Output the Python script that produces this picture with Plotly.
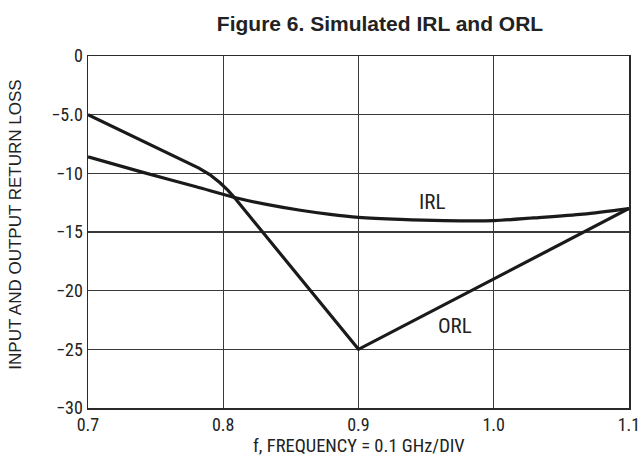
import plotly.graph_objects as go

# Data
irl_freq = [0.70, 0.74, 0.78, 0.81, 0.832, 0.857, 0.879, 0.90, 0.931, 0.963, 1.00, 1.029, 1.066, 1.10]
irl_db = [-8.6, -9.9, -11.15, -12.1, -12.65, -13.15, -13.5, -13.75, -13.93, -14.03, -14.03, -13.8, -13.47, -13.0]

orl_freq = [0.70, 0.72, 0.74, 0.76, 0.772, 0.782, 0.79, 0.7976, 0.8035, 0.8087, 0.90, 1.10]
orl_db = [-5.0, -6.12, -7.22, -8.3, -8.97, -9.55, -10.1, -10.8, -11.45, -12.13, -25.0, -13.0]

x_ticks = [0.7, 0.8, 0.9, 1.0, 1.1]
x_tick_labels = ["0.7", "0.8", "0.9", "1.0", "1.1"]
y_ticks = [0, -5, -10, -15, -20, -25, -30]
y_tick_labels = ["0", "\u22125.0", "\u221210", "\u221215", "\u221220", "\u221225", "\u221230"]

narrow = "Roboto Condensed, Liberation Sans Narrow, Arial Narrow, Liberation Sans, sans-serif"
regular = "Liberation Sans, Arial, sans-serif"
ink = "#222222"

fig = go.Figure()
fig.add_trace(go.Scatter(x=irl_freq, y=irl_db, mode="lines", name="IRL",
                         line=dict(color="#1a1a1a", width=3.2, shape="spline", smoothing=0.8)))
fig.add_trace(go.Scatter(x=orl_freq, y=orl_db, mode="lines", name="ORL",
                         line=dict(color="#1a1a1a", width=3.2, shape="linear")))

fig.add_annotation(x=0.954, y=-12.45, text="IRL", showarrow=False,
                   font=dict(family=narrow, size=21, color=ink))
fig.add_annotation(x=0.971, y=-23.0, text="ORL", showarrow=False,
                   font=dict(family=narrow, size=21, color=ink))

# Axis titles
fig.add_annotation(xref="paper", yref="paper", x=0.501, y=-0.108, text="f, FREQUENCY = 0.1 GHz/DIV",
                   showarrow=False, xanchor="center", yanchor="middle",
                   font=dict(family=narrow, size=18.5, color=ink))
fig.add_annotation(xref="paper", yref="paper", x=-0.133, y=0.521, text="INPUT AND OUTPUT RETURN LOSS",
                   showarrow=False, xanchor="center", yanchor="middle", textangle=-90,
                   font=dict(family=regular, size=17, color=ink))

fig.update_layout(
    width=643, height=468,
    margin=dict(l=88, r=14, t=56, b=60),
    paper_bgcolor="white", plot_bgcolor="white",
    showlegend=False,
    hovermode=False,
    title=dict(text="<b>Figure 6. Simulated IRL and ORL</b>", x=0.591, xanchor="center",
               y=0.9487, yanchor="middle",
               font=dict(family=regular, size=21, color=ink)),
    font=dict(family=narrow, size=18, color=ink),
)
fig.update_xaxes(range=[0.7, 1.1], tickvals=x_ticks, ticktext=x_tick_labels,
                 showgrid=True, gridcolor="#3a3a3a", gridwidth=1.2,
                 showline=True, linecolor="#2a2a2a", linewidth=1.5, mirror=True,
                 ticks="", zeroline=False, automargin=False,
                 tickfont=dict(family=narrow, size=18, color=ink))
fig.update_yaxes(range=[-30, 0], tickvals=y_ticks, ticktext=y_tick_labels,
                 showgrid=True, gridcolor="#3a3a3a", gridwidth=1.2,
                 showline=True, linecolor="#2a2a2a", linewidth=1.5, mirror=True,
                 ticks="", zeroline=False, automargin=False,
                 tickfont=dict(family=narrow, size=18, color=ink))

fig.write_html(
    "out.html",
    config={"displayModeBar": False, "staticPlot": True},
    post_script=(
        "document.documentElement.style.margin='0';"
        "document.documentElement.style.overflow='hidden';"
        "document.body.style.margin='0';"
        "document.body.style.overflow='hidden';"
    ),
)
